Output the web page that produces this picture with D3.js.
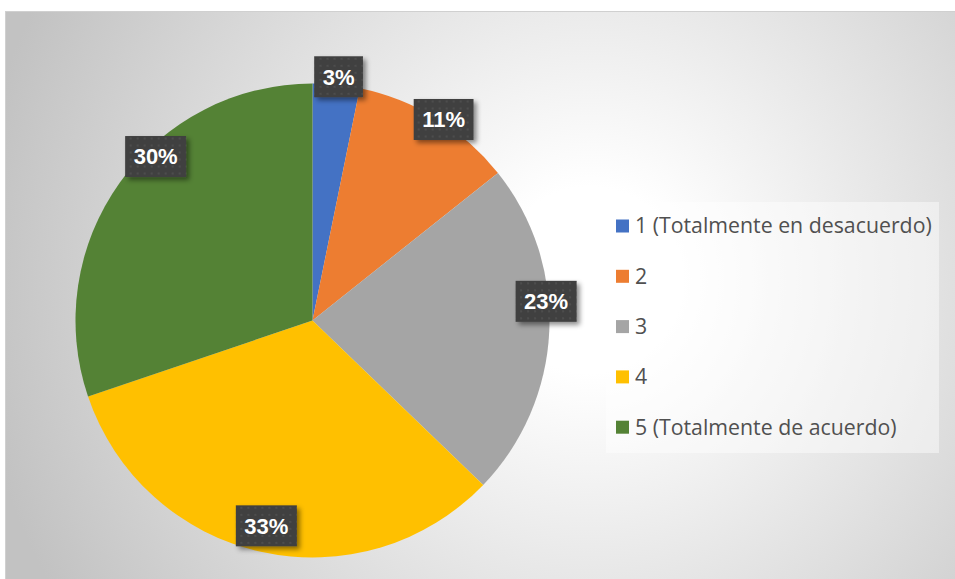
<!DOCTYPE html>
<html><head><meta charset="utf-8">
<script src="https://cdn.jsdelivr.net/npm/d3@7"></script>
<style>html,body{margin:0;padding:0;background:#fff;}svg{display:block;}</style>
</head><body>
<svg id="chart" width="955" height="579"></svg>
<script>
const categories = ["1 (Totalmente en desacuerdo)", "2", "3", "4", "5 (Totalmente de acuerdo)"];
const values = [3.2, 11.1, 22.9, 32.6, 30.2];
const colors = ["#4472C4", "#ED7D31", "#A5A5A5", "#FFC000", "#548235"];

const W = 955, H = 579;
const svg = d3.select("#chart");
const defs = svg.append("defs");

const grad = defs.append("radialGradient").attr("id", "bg")
  .attr("gradientUnits", "userSpaceOnUse")
  .attr("cx", 590).attr("cy", 280).attr("r", 620);
grad.append("stop").attr("offset", 0).attr("stop-color", "#ffffff");
grad.append("stop").attr("offset", 0.15).attr("stop-color", "#ffffff");
grad.append("stop").attr("offset", 1).attr("stop-color", "#c2c2c2");

const pat = defs.append("pattern").attr("id", "dots")
  .attr("patternUnits", "userSpaceOnUse").attr("width", 7).attr("height", 7);
pat.append("rect").attr("width", 7).attr("height", 7).attr("fill", "#404040");
pat.append("rect").attr("x", 2).attr("y", 2).attr("width", 2).attr("height", 2).attr("fill", "#4d4d4d");

const sh = defs.append("filter").attr("id", "shadow").attr("x", "-30%").attr("y", "-30%").attr("width", "160%").attr("height", "160%");
sh.append("feDropShadow").attr("dx", 3).attr("dy", 3).attr("stdDeviation", 2.5)
  .attr("flood-color", "#000").attr("flood-opacity", 0.45);

svg.append("rect").attr("x", 5.5).attr("y", 11.5).attr("width", W).attr("height", H)
  .attr("fill", "url(#bg)").attr("stroke", "#d0d0d0").attr("stroke-width", 1);

const cx = 312.5, cy = 320.5, R = 237;
const pie = d3.pie().sort(null).value(d => d);
const arcs = pie(values);
const arc = d3.arc().innerRadius(0).outerRadius(R);
const g = svg.append("g").attr("transform", `translate(${cx},${cy})`);
g.selectAll("path.slice").data(arcs).join("path")
  .attr("class", "slice")
  .attr("d", arc)
  .attr("fill", (d, i) => colors[i]);

const total = d3.sum(values);
const fmt = d3.format(".0%");
// best-fit label placement: centroid near the rim, with small layout nudges
const labelArc = d3.arc().innerRadius(R * 0.97).outerRadius(R * 0.97);
const labelNudge = [[3, -15], [11, -5], [4, -30], [4, -19], [30, -30]];
const lg = g.selectAll("g.lab").data(arcs).join("g").attr("class", "lab")
  .attr("transform", (d, i) => {
    const c = labelArc.centroid(d);
    return `translate(${c[0] + labelNudge[i][0]},${c[1] + labelNudge[i][1]})`;
  });
lg.each(function(d) {
  const sel = d3.select(this);
  const t = sel.append("text")
    .attr("text-anchor", "middle").attr("dy", "0.36em")
    .attr("font-family", "'Liberation Sans', Arial, sans-serif")
    .attr("font-weight", "bold").attr("font-size", 22)
    .attr("fill", "#ffffff")
    .text(fmt(d.data / total));
  const bb = t.node().getBBox();
  const pw = 8.5, bh = 41;
  sel.insert("rect", "text")
    .attr("x", bb.x - pw).attr("y", -bh / 2)
    .attr("width", bb.width + 2 * pw).attr("height", bh)
    .attr("fill", "url(#dots)").attr("filter", "url(#shadow)");
});

// legend
const lx = 606, ly = 202, lw = 333, lh = 251;
svg.append("rect").attr("x", lx).attr("y", ly).attr("width", lw).attr("height", lh)
  .attr("fill", "#ffffff").attr("fill-opacity", 0.45);
const y0 = 226, step = 50.3;
const li = svg.selectAll("g.li").data(categories).join("g").attr("class", "li")
  .attr("transform", (d, i) => `translate(${lx + 10},${y0 + i * step})`);
li.append("rect").attr("x", 0).attr("y", -6.5).attr("width", 13).attr("height", 13)
  .attr("fill", (d, i) => colors[i]);
li.append("text").attr("x", 19).attr("dy", "0.35em")
  .attr("font-family", "'Open Sans', Lato, sans-serif").attr("font-size", 21.3)
  .attr("fill", "#505050").text(d => d);
</script>
</body></html>
